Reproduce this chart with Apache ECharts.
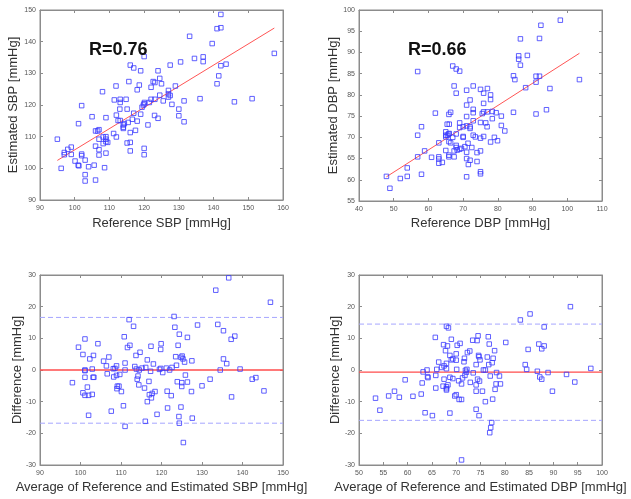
<!DOCTYPE html>
<html><head><meta charset="utf-8">
<script src="https://cdn.jsdelivr.net/npm/echarts@6/dist/echarts.min.js"></script>
<style>html,body{margin:0;padding:0;background:#fff}#c{width:631px;height:499px}</style>
</head><body><div id="c"></div>
<script>
// ---- Panel 1: SBP correlation ----
const sbpRef = [95,96.1,97,97,98,99,99,100.1,101.1,101,101.2,102,102,102,103,103,103,104,105,105.6,106,106,106,106.6,107,107,107,107,108,108.2,108.2,108.6,109,109,109,109,109,109.5,111.2,111.4,111.9,112,112,112.5,113.1,113.1,113,113.1,114,114,114,114.3,114.8,115.1,115.1,115.4,115.6,116,116,116,116,116.6,117,117,117.5,118,118,118.6,119,119,119.4,119.8,120,120.1,120,120,120,121.1,121.5,122,122,122.6,123.1,123,123.1,124,124,124.5,124.5,125,125.5,127,127,127,127.5,127.5,128,129,130,130,130.5,131.5,131.5,133.1,134.5,136.1,137,137,139.6,141,141,141.5,142.1,142.1,142.1,143.6,146,151.1,157.5];
const sbpEst = [109.2,100,105,104.3,106,106.7,104.4,102.3,114.1,101,100.8,119.8,104.5,104,102.6,98,96,100.5,116.3,101,111.8,107,96.3,111.8,112.2,109.2,105.9,104.2,124.2,109.9,107.8,100.2,116,110,109.2,108.4,104.8,108.2,111,121.6,126,116.8,109.9,115.1,121.8,120.8,118.7,115.1,113.7,113,112.6,114.1,121.8,118.7,108,114.5,127.4,132.6,108.2,111.3,105.5,115.5,131.7,117.4,112,114.9,124.8,126.3,130.8,117.1,119.3,120,120.4,120.8,135.3,106.3,104.3,113.7,120.8,125.6,121.8,127.4,127.1,116.7,121.8,130.8,115.8,128.4,123.1,126.7,121.3,124.6,123.5,122.5,132.6,123,120.2,126,118.7,116.6,133.6,121.3,114.7,141.7,134.7,122,135.2,133.7,139.4,144.1,126.7,129.2,144.4,148.6,132.4,132.9,121,122,136.3];
const sbpFitX = [95, 157.5];
const sbpFitY = [102.5, 144.3];
const sbpR = "R=0.76";

// ---- Panel 2: DBP correlation ----
const dbpRef = [47.9,48.9,51.9,53.9,53.9,56.9,56.9,56.9,58,58,58.9,60.9,62,63,63,63,63,64,65,65,65,65,65.4,66,65.5,65.8,66,65.9,65.9,65.9,65.9,66.4,66.4,67,67.4,67,67.4,67.4,68,68,68,68,68,68.3,69,69,69,69,69.5,70,70,70,70.5,71,71,71,71,71,71,71,71.4,71.5,72,72,72,72,72.5,72.9,72.9,72.9,72.9,72.9,73.5,74,74,75,75,75,75,75,75,75.5,75.9,75.9,75.9,75.9,76.5,76.9,77,77,77.9,77.9,77.9,78.4,78.4,79,79.5,79.9,81,81,82,84.5,84.5,84.9,86,86,86.5,86.5,88,88.5,91,91,91,92,92,92.4,94,95,98,103.5];
const dbpEst = [60.8,58,60.3,62.8,60.8,85.5,70.5,65.4,72.5,61.3,66.8,65.3,75.7,65.4,64.9,63.9,68.7,64.1,71.3,70.5,70.1,66.9,73.1,73.1,70.5,70.8,70.9,75.4,69,65.8,65.4,75.9,68.7,86.8,82.1,70,66.8,65.4,86.1,80.4,70.8,68.1,67.6,67,85.6,73.4,72.3,67.2,67.4,70.2,70,72.5,67.8,81.1,77.6,74.9,72.7,66.5,65,60.7,68.6,63.6,78.8,72.5,72.1,64.6,67.6,82.1,76.6,75.8,73.9,70.5,70.1,66.4,64.3,81.3,73.5,69.8,66.8,61.9,61.4,75.6,80.4,78,76,70.2,73.4,72.5,81.5,76,80,78.9,68.9,76.1,74.4,70,75.8,69.2,75,72.8,71.5,84.5,75.9,83.6,89.2,88.4,93.2,87,81.7,89.3,84.4,83,75.5,93.3,84.4,96.4,76.5,81.5,97.6,83.6];
const dbpFitX = [47.9, 103.5];
const dbpFitY = [60.7, 89.8];
const dbpR = "R=0.66";

// ---- Panel 3: SBP Bland-Altman ----
const sbpAvg = [98,99.5,100.6,100.6,101.1,101.1,101.1,101.1,101.1,101.7,102,102,102.3,102.9,102.9,103.1,103.2,103.3,104.3,105.7,106.4,106.6,107,107.6,108.1,108.2,108.5,108.9,108.9,109,109.1,109.5,109.7,110.1,110.6,110.8,111,111,111,111.6,112,112.2,113.1,113.4,113.7,113.8,114,114.2,114.4,114.7,114.5,115.2,115.8,116,116.1,116.5,116.5,116.9,117,117.3,117.4,117.5,117.7,118,118.4,118.9,119.5,119.8,119.9,119.8,120.3,121.2,121.4,121.5,122,122.4,122.6,123.1,123.3,123.5,123.7,123.9,124.1,124.4,124.3,124.4,124.8,124.8,125.1,125,125,125.3,125.4,125.7,125.9,126.4,126.4,127.5,127.4,127.6,128.9,130,132,133.4,133.9,134.5,135.3,135.3,136.1,136.6,137.2,137.3,138.1,139.4,142.4,143.3,145.3,146.9];
const sbpDiff = [-4,7.2,4.9,-7.2,-8,0,-0.2,9.8,-2.3,-5.4,-8,-14.3,3.5,0.3,-7.7,-2.3,4.6,-2.3,8.3,2.8,1.3,-1.2,4.1,-13,0.4,-2.2,0.5,1.3,-1.7,-5.9,-5.1,-5.1,-1.4,-6.8,-11.3,10.5,2.2,0,-17.8,7.1,15.9,7.8,13.8,1.1,4.6,0.3,-2.9,-1.9,-4.7,5.6,0,0.6,-5.7,-16.2,0.8,-10,3.2,-3.6,-7.8,-0.4,7.5,-8.8,-7.4,1.9,-6.8,-14,0.2,6.5,8.3,0.5,-0.8,0.6,-6.7,-12,0,-8.1,0.8,16.9,13.5,4.2,1.5,-3.7,7.8,11.3,-14.7,-16.8,-11.7,4,4.4,-4,-5.2,3.5,-22.9,2.5,-1.6,10.3,-3.8,2.9,-6.8,-15.2,14.2,-5,-2.9,25.2,14.4,0,12.4,3.5,2,29.1,9.7,-8.5,10.7,0.3,-2.9,-2.4,-6.6,21.4];
const sbpMean = 0;
const sbpLoA = [16.6, -16.8];

// ---- Panel 4: DBP Bland-Altman ----
const dbpAvg = [53.4,54.3,56.1,57.3,58.3,59.5,61.1,62.8,63,63.2,63.6,64,64.1,64.2,65.1,65.7,65.8,65.8,66,66.4,67,67.4,67.5,67.5,67.3,67.8,68,68,68,68,68,68,68.2,68.4,68.3,68.7,68.7,68.7,69,69,69.3,69.3,69.7,70,70,70,70.1,70.2,70.5,70.6,70.8,71.1,71.1,71.1,71.3,71.6,71.7,71.8,71.9,72.1,72.2,72.3,72.8,72.9,73.4,73.5,74.1,74.1,74.1,74.1,74.3,74.4,74.5,74.6,74.7,74.7,74.8,74.9,75.4,75.6,76,76,76.4,76.6,76.7,76.8,76.9,77,77.1,77.3,77.4,77.5,77.6,77.9,78,78.2,78.3,78.9,79.1,80.2,83.2,84.2,84.5,84.8,85.2,86.7,87,87.2,87.6,87.6,88.1,88.1,88.9,89.8,92.7,93.5,94.4,97.7];
const dbpDiff = [-8.9,-12.7,-8.2,-6.7,-8.6,-3.1,-8.3,-7.6,-4.1,-0.6,-13.5,0,-2.1,-2.4,-14.4,10.3,-1.7,-5.7,0.2,2.5,0.8,8,1.3,-2.9,-5.1,6.1,2.1,0.4,13.8,-5.3,-5.9,-6.3,7.6,13.3,-4.7,4.6,-2.3,-13.6,9.7,3.2,3.5,-2.7,-8.2,-7.8,5.1,3.1,0.2,7.8,-3.4,-9.3,8.4,-4.4,-28.4,-9.3,-2.5,2.6,3.7,-1.7,-0.1,-0.7,0.2,5.5,6,-3.9,9.4,-0.9,1.7,-4.7,-6.7,-12.4,9.3,-2.9,10.8,4.6,4.2,-14.4,-3.5,3.2,-6.7,0,0,-10,4.1,10.5,1.7,8.2,-19.8,-1.9,-18.2,-16.6,2.3,-9.2,3.7,6.1,-6.1,-4.4,-0.8,-1.9,-4.4,8.7,15.8,1.7,0.2,6.5,17.7,-0.4,8.2,-2.2,-2.9,6.7,13.6,7.6,-0.8,-6.7,-1.4,20,-3.8,0.5];
const dbpMean = -0.7;
const dbpLoA = [14.5, -15.9];

// ---- Axis settings ----
const xTitles = ["Reference SBP [mmHg]", "Reference DBP [mmHg]", "Average of Reference and Estimated SBP [mmHg]", "Average of Reference and Estimated DBP [mmHg]"];
const yTitles = ["Estimated SBP [mmHg]", "Estimated DBP [mmHg]", "Difference [mmHg]", "Difference [mmHg]"];
const xRanges = [[90,160,10],[40,110,10],[90,150,10],[50,100,5]];
const yRanges = [[90,150,10],[55,100,5],[-30,30,10],[-30,30,10]];

const FONT = '"Liberation Sans", Arial, sans-serif';
const grids = [
  {left:40, top:10, width:243, height:190},
  {left:359, top:10, width:243, height:191},
  {left:40, top:275, width:243, height:190},
  {left:359, top:275, width:243, height:190}
];
const AX = '#8c8c8c';
const xAxes = [], yAxes = [];
grids.forEach((g,i)=>{
  g.show = true; g.borderColor = AX; g.borderWidth = 1; g.backgroundColor = '#fff';
  const base = {
    type:'value', gridIndex:i, splitLine:{show:false},
    axisLine:{show:true, onZero:false, lineStyle:{color:AX, width:1}},
    axisTick:{show:true, inside:true, length:3, lineStyle:{color:AX}},
    axisLabel:{fontSize:7, color:'#555', fontFamily:FONT}
  };
  xAxes.push(Object.assign({}, base, {position:'bottom', min:xRanges[i][0], max:xRanges[i][1], interval:xRanges[i][2],
    axisLabel:Object.assign({}, base.axisLabel, {margin:5})}));
  xAxes.push(Object.assign({}, base, {position:'top', min:xRanges[i][0], max:xRanges[i][1], interval:xRanges[i][2], axisLabel:{show:false}}));
  yAxes.push(Object.assign({}, base, {position:'left', min:yRanges[i][0], max:yRanges[i][1], interval:yRanges[i][2],
    axisLabel:Object.assign({}, base.axisLabel, {margin:4})}));
  yAxes.push(Object.assign({}, base, {position:'right', min:yRanges[i][0], max:yRanges[i][1], interval:yRanges[i][2], axisLabel:{show:false}}));
});

const MK = '#3a3aff';
function scatter(i, xs, ys){
  return {type:'scatter', xAxisIndex:2*i, yAxisIndex:2*i, symbol:'rect', symbolSize:4.5,
    itemStyle:{color:'rgba(0,0,0,0)', borderColor:MK, borderWidth:1},
    data: xs.map((x,k)=>[x, ys[k]]), silent:true, animation:false, z:3};
}
function fitLine(i, xs, ys){
  return {type:'line', xAxisIndex:2*i, yAxisIndex:2*i, showSymbol:false, symbol:'none',
    lineStyle:{color:'#ff5555', width:1}, data: xs.map((x,k)=>[x, ys[k]]), silent:true, animation:false, z:2};
}
function hLine(i, xr, y, color, width, dashed){
  return {type:'line', xAxisIndex:2*i, yAxisIndex:2*i, showSymbol:false, symbol:'none',
    lineStyle:{color:color, width:width, type: dashed ? [5,3] : 'solid'},
    data:[[xr[0], y],[xr[1], y]], silent:true, animation:false, z:2};
}

const series = [
  scatter(0, sbpRef, sbpEst), fitLine(0, sbpFitX, sbpFitY),
  scatter(1, dbpRef, dbpEst), fitLine(1, dbpFitX, dbpFitY),
  hLine(2, xRanges[2], sbpMean, '#ff4d4d', 1.3, false),
  hLine(2, xRanges[2], sbpLoA[0], '#a6a6ff', 1, true),
  hLine(2, xRanges[2], sbpLoA[1], '#a6a6ff', 1, true),
  scatter(2, sbpAvg, sbpDiff),
  hLine(3, xRanges[3], dbpMean, '#ff4d4d', 1.3, false),
  hLine(3, xRanges[3], dbpLoA[0], '#a6a6ff', 1, true),
  hLine(3, xRanges[3], dbpLoA[1], '#a6a6ff', 1, true),
  scatter(3, dbpAvg, dbpDiff)
];

const titleStyle = {fontSize:13, fill:'#333', fontFamily:FONT};
const graphic = [
  {type:'text', left:89, top:41, style:{text:sbpR, fontSize:18, fontWeight:'bold', fill:'#111', fontFamily:FONT}, z:10},
  {type:'text', left:408, top:41, style:{text:dbpR, fontSize:18, fontWeight:'bold', fill:'#111', fontFamily:FONT}, z:10}
];
const xTitleY = [223, 223, 487, 487];
const yTitleX = [13, 333, 17, 335];
grids.forEach((g,i)=>{
  graphic.push({type:'text', x:g.left + g.width/2, y:xTitleY[i],
    style:Object.assign({text:xTitles[i], textAlign:'center', textVerticalAlign:'middle'}, titleStyle)});
  graphic.push({type:'text', x:yTitleX[i], y:g.top + g.height/2, rotation:Math.PI/2,
    style:Object.assign({text:yTitles[i], textAlign:'center', textVerticalAlign:'middle'}, titleStyle)});
});

const chart = echarts.init(document.getElementById('c'), null, {renderer:'canvas'});
chart.setOption({
  backgroundColor:'#fff', animation:false,
  grid:grids, xAxis:xAxes, yAxis:yAxes, series:series, graphic:graphic
});
</script>
</body></html>
